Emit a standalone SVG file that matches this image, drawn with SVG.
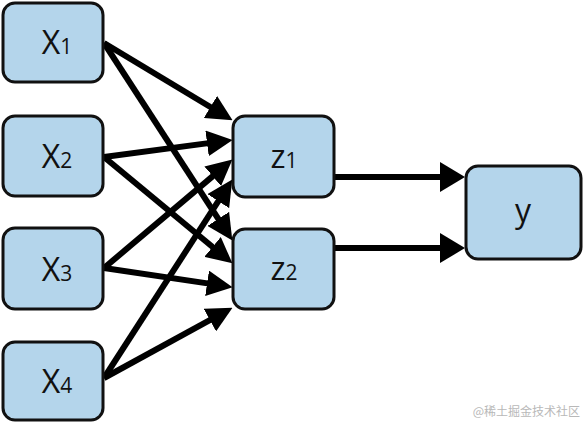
<svg xmlns="http://www.w3.org/2000/svg" width="586" height="425" viewBox="0 0 586 425">
<style>
.box{fill:#b4d5eb;stroke:#111;stroke-width:3}
.lbl{font-family:"Open Sans","Noto Sans",sans-serif;font-size:32px;fill:#111;text-anchor:middle}
.sub{font-size:21px}
.e{stroke:#000;stroke-width:6;fill:none}
.wm{font-family:"Noto Sans CJK SC",sans-serif;font-size:12px;fill:#b8b8b8;text-anchor:end}
</style>
<defs>
<marker id="a" viewBox="0 0 4.3 4.3" refX="1.2" refY="2.15" markerWidth="4.3" markerHeight="4.3" orient="auto" markerUnits="strokeWidth"><path d="M0,0L4.3,2.15L0,4.3z" fill="#000"/></marker>
<marker id="b" viewBox="0 0 4.2 5" refX="1" refY="2.5" markerWidth="4.2" markerHeight="5" orient="auto" markerUnits="strokeWidth"><path d="M0,0L4.2,2.5L0,5z" fill="#000"/></marker>
</defs>
<rect width="586" height="425" fill="#fff"/>
<g id="connectors">
<line class="e" marker-end="url(#a)" x1="104" y1="43" x2="216.6" y2="110.7"/>
<line class="e" marker-end="url(#a)" x1="104" y1="43" x2="222.2" y2="224.9"/>
<line class="e" marker-end="url(#a)" x1="104" y1="157" x2="214.2" y2="142.4"/>
<line class="e" marker-end="url(#a)" x1="104" y1="157" x2="218.1" y2="251.5"/>
<line class="e" marker-end="url(#a)" x1="104" y1="268" x2="218.2" y2="171.6"/>
<line class="e" marker-end="url(#a)" x1="104" y1="268" x2="214.2" y2="284.4"/>
<line class="e" marker-end="url(#a)" x1="104" y1="378" x2="222.2" y2="195.1"/>
<line class="e" marker-end="url(#a)" x1="104" y1="378" x2="216.2" y2="316.6"/>
<line class="e" marker-end="url(#b)" x1="335" y1="177" x2="446" y2="177"/>
<line class="e" marker-end="url(#b)" x1="335" y1="248" x2="446" y2="248"/>
</g>
<g id="x1"><rect class="box" x="3" y="3" width="100" height="79" rx="12"/><text class="lbl" x="57" y="54">X<tspan class="sub">1</tspan></text></g>
<g id="x2"><rect class="box" x="3" y="116" width="100" height="80" rx="12"/><text class="lbl" x="57" y="168">X<tspan class="sub">2</tspan></text></g>
<g id="x3"><rect class="box" x="3" y="228" width="100" height="81" rx="12"/><text class="lbl" x="57" y="281">X<tspan class="sub">3</tspan></text></g>
<g id="x4"><rect class="box" x="3" y="342" width="100" height="78" rx="12"/><text class="lbl" x="57" y="393">X<tspan class="sub">4</tspan></text></g>
<g id="z1"><rect class="box" x="233" y="116" width="101" height="81" rx="12"/><text class="lbl" x="284" y="168">z<tspan class="sub">1</tspan></text></g>
<g id="z2"><rect class="box" x="233" y="229" width="101" height="80" rx="12"/><text class="lbl" x="284" y="280">z<tspan class="sub">2</tspan></text></g>
<g id="y"><rect class="box" x="466" y="166" width="115" height="93" rx="12"/><text class="lbl" x="523" y="222">y</text></g>
<text class="wm" x="580" y="416">@稀土掘金技术社区</text>
</svg>
